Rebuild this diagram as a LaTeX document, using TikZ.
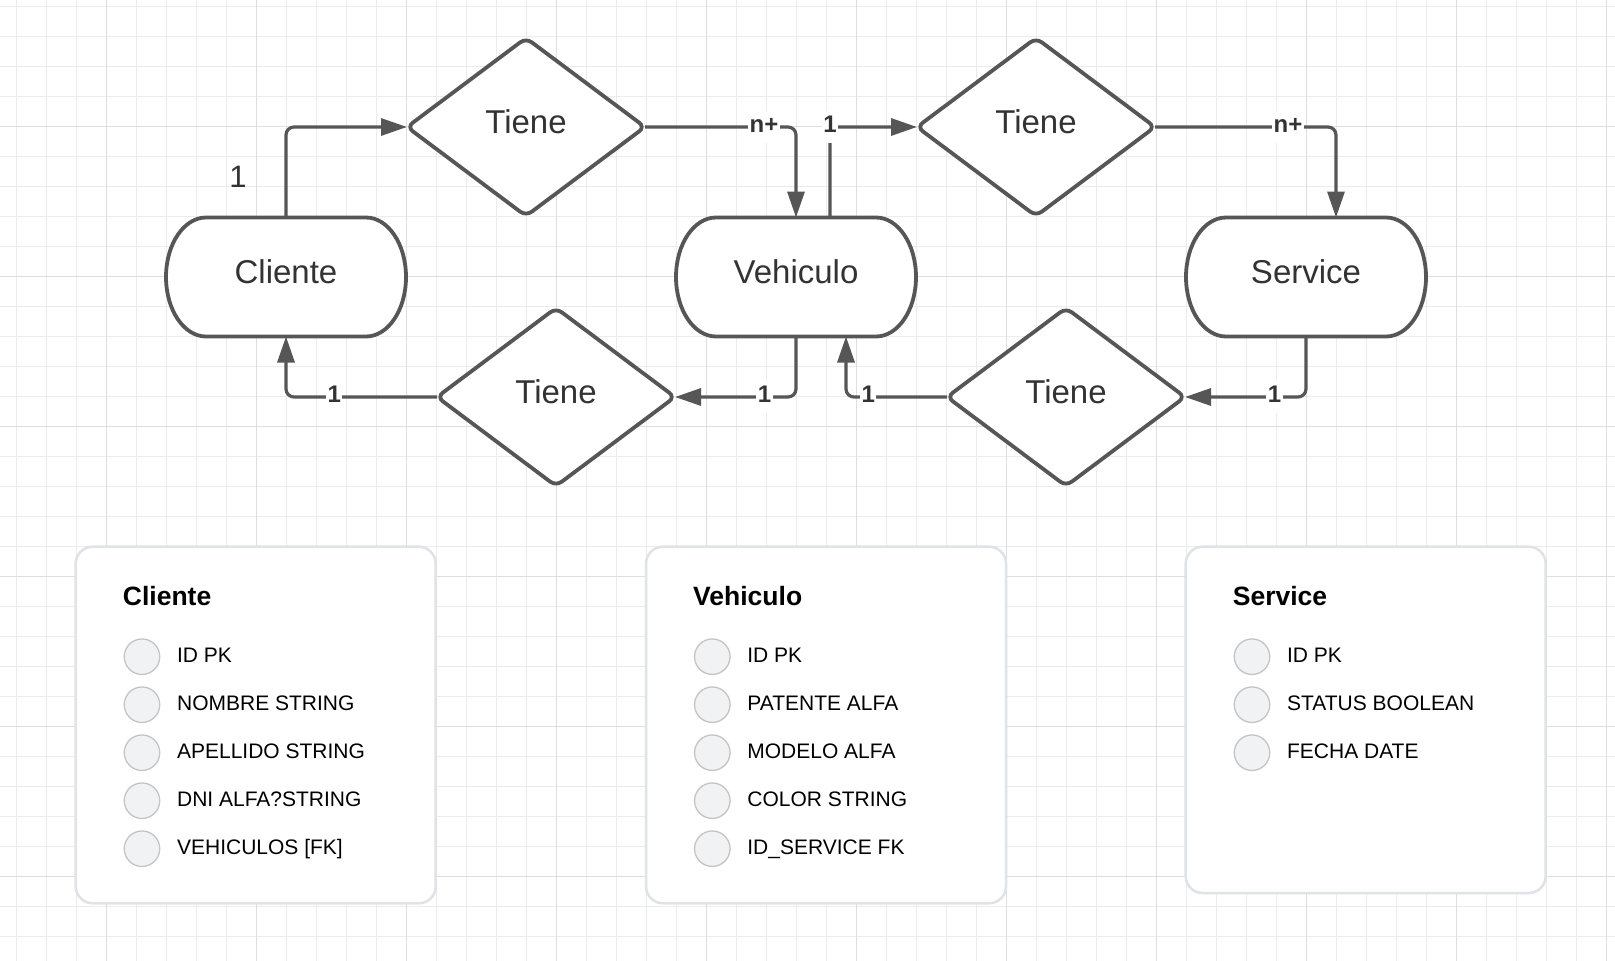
\documentclass[tikz,border=0pt]{standalone}
\usepackage{fontspec}
\setmainfont{Liberation Sans}
\usetikzlibrary{shapes.geometric,positioning,arrows.meta}
\definecolor{linecolor}{RGB}{86,86,86}
\definecolor{inkcolor}{RGB}{51,51,51}
\definecolor{cardcolor}{RGB}{223,226,231}
\definecolor{dotcolor}{RGB}{241,242,244}
\definecolor{dotedge}{RGB}{196,196,196}
\definecolor{gridcolor}{RGB}{236,236,236}
\definecolor{majorcolor}{RGB}{222,222,222}

\begin{document}
\begin{tikzpicture}[%
    x=1pt, y=-1pt,                      % pixel-like units, y grows downwards
    >={Triangle[length=26pt,width=17pt]}, % big filled heads
    ]
\tikzset{
  base/.style={on grid, align=center, outer sep=0pt, text=inkcolor,
    font=\fontsize{33}{39}\selectfont, text height=23.5pt, text depth=10pt},
  ent/.style={base, minimum width=240pt, minimum height=119pt,
    append after command={\pgfextra{
      \draw[draw=linecolor, line width=3.8pt, fill=white]
        ([xshift=40pt]\tikzlastnode.north west) -- ([xshift=-40pt]\tikzlastnode.north east)
        arc[start angle=90, end angle=-90, x radius=40pt, y radius=59.5pt]
        -- ([xshift=40pt]\tikzlastnode.south west)
        arc[start angle=270, end angle=90, x radius=40pt, y radius=59.5pt] -- cycle;}}},
  rel/.style={base, diamond, draw=linecolor, line width=3.8pt, fill=white,
    rounded corners=7pt, minimum width=238pt, minimum height=178pt, inner sep=0pt},
  conn/.style={draw=linecolor, line width=3.2pt, rounded corners=8pt, ->},
  lbl/.style={fill=white, sharp corners, text=inkcolor,
    font=\fontsize{24}{28}\selectfont\bfseries,
    inner xsep=1.5pt, inner ysep=4.5pt, text height=17pt, text depth=6pt},
  note/.style={text=inkcolor, font=\fontsize{31}{36}\selectfont, inner sep=0pt},
  card/.style={draw=cardcolor, line width=2.5pt, fill=white, rounded corners=17pt,
    minimum width=360pt, anchor=north west, outer sep=0pt},
  head/.style={anchor=base west, inner sep=0pt, font=\fontsize{26.5}{32}\selectfont\bfseries},
  bullet/.style={on grid, circle, draw=dotedge, fill=dotcolor, line width=1.3pt,
    minimum size=35.5pt, inner sep=0pt},
  attr/.style={inner sep=0pt, font=\fontsize{21}{25}\selectfont,
    text height=15.4pt, text depth=4.4pt},
}

\useasboundingbox (0,0) rectangle (1615,961);
\fill [white] (0,0) rectangle (1615,961);

% background grid
\begin{scope}
  \clip (0,0) rectangle (1615,961);
  \draw [gridcolor, line width=1pt, step=30pt, shift={(16.3,6.3)}] (-30,-30) grid (1620,970);
  \draw [majorcolor, line width=1pt, step=150pt, shift={(106.3,126.3)}] (-150,-150) grid (1620,970);
\end{scope}

% entities and relations
\node [ent] (cli) at (286,277) {Cliente};
\node [ent, right=510pt of cli] (veh) {Vehiculo};
\node [ent, right=510pt of veh] (ser) {Service};

\node [rel, above right=150pt and 240pt of cli] (t1) {Tiene};
\node [rel, above right=150pt and 240pt of veh] (t2) {Tiene};
\node [rel, below right=120pt and 270pt of cli] (b1) {Tiene};
\node [rel, below right=120pt and 270pt of veh] (b2) {Tiene};

\node [note] (one) at ([shift={(-48pt,41pt)}]cli.north) {1};

%connect
\draw [conn] (cli.north) |- (t1.west);
\draw [conn] (t1.east) -- ++(119,0) node [lbl] {n+} -| (veh.north);
\draw [conn] ([xshift=34pt]veh.north) |- node [lbl] {1} (t2.west);
\draw [conn] (t2.east) -- ++(133,0) node [lbl] {n+} -| ([xshift=30pt]ser.north);
\draw [conn] (veh.south) |- node [lbl, pos=0.63] {1} (b1.east);
\draw [conn] (b1.west) -| node [lbl, pos=0.34] {1} (cli.south);
\draw [conn] (b2.west) -| node [lbl, pos=0.39] {1} ([xshift=50pt]veh.south);
\draw [conn] (ser.south) |- node [lbl, pos=0.63] {1} (b2.east);

% tables
\node [card, minimum height=356.6pt] (tc) at (75.7,546.7) {};
\node [card, minimum height=356.6pt] (tv) at (646,546.7) {};
\node [card, minimum height=346.3pt] (ts) at (1185.7,546.7) {};

\node [head] (hc) at ([shift={(47pt,-58.3pt)}]tc.north west) {Cliente};
\node [bullet] (kc1) at ([shift={(66.3pt,-110pt)}]tc.north west) {};
\node [bullet, below=48pt of kc1] (kc2) {};
\node [bullet, below=48pt of kc2] (kc3) {};
\node [bullet, below=48pt of kc3] (kc4) {};
\node [bullet, below=48pt of kc4] (kc5) {};
\node [attr, right=16.5pt of kc1] (ac1) {ID PK};
\node [attr, right=16.5pt of kc2] (ac2) {NOMBRE STRING};
\node [attr, right=16.5pt of kc3] (ac3) {APELLIDO STRING};
\node [attr, right=16.5pt of kc4] (ac4) {DNI ALFA?STRING};
\node [attr, right=16.5pt of kc5] (ac5) {VEHICULOS [FK]};

\node [head] (hv) at ([shift={(47pt,-58.3pt)}]tv.north west) {Vehiculo};
\node [bullet] (kv1) at ([shift={(66.3pt,-110pt)}]tv.north west) {};
\node [bullet, below=48pt of kv1] (kv2) {};
\node [bullet, below=48pt of kv2] (kv3) {};
\node [bullet, below=48pt of kv3] (kv4) {};
\node [bullet, below=48pt of kv4] (kv5) {};
\node [attr, right=16.5pt of kv1] (av1) {ID PK};
\node [attr, right=16.5pt of kv2] (av2) {PATENTE ALFA};
\node [attr, right=16.5pt of kv3] (av3) {MODELO ALFA};
\node [attr, right=16.5pt of kv4] (av4) {COLOR STRING};
\node [attr, right=16.5pt of kv5] (av5) {ID\_SERVICE FK};

\node [head] (hs) at ([shift={(47pt,-58.3pt)}]ts.north west) {Service};
\node [bullet] (ks1) at ([shift={(66.3pt,-110pt)}]ts.north west) {};
\node [bullet, below=48pt of ks1] (ks2) {};
\node [bullet, below=48pt of ks2] (ks3) {};
\node [attr, right=16.5pt of ks1] (as1) {ID PK};
\node [attr, right=16.5pt of ks2] (as2) {STATUS BOOLEAN};
\node [attr, right=16.5pt of ks3] (as3) {FECHA DATE};

\end{tikzpicture}
\end{document}
